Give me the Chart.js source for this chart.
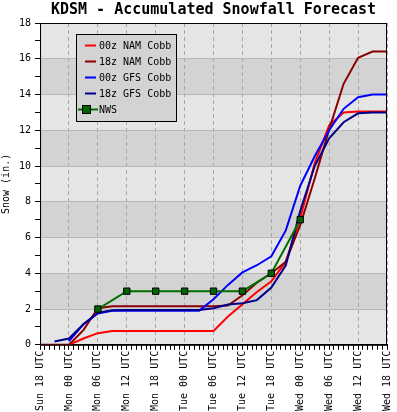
<!DOCTYPE html>
<html>
<head>
<meta charset="utf-8">
<script src="https://cdn.jsdelivr.net/npm/chart.js@4.4.0/dist/chart.umd.min.js"></script>
<style>
  html, body { margin: 0; padding: 0; background: #fff; }
</style>
</head>
<body>
<canvas id="snowChart" width="397" height="412"></canvas>
<script>
// forecast hours since Sun 18 UTC, every 3 hours
const hours = [0, 3, 6, 9, 12, 15, 18, 21, 24, 27, 30, 33, 36, 39, 42, 45, 48, 51, 54, 57, 60, 63, 66, 69, 72];
const tickLabels = ['Sun 18 UTC', 'Mon 00 UTC', 'Mon 06 UTC', 'Mon 12 UTC', 'Mon 18 UTC', 'Tue 00 UTC', 'Tue 06 UTC',
  'Tue 12 UTC', 'Tue 18 UTC', 'Wed 00 UTC', 'Wed 06 UTC', 'Wed 12 UTC', 'Wed 18 UTC'];

// accumulated snow (in.)
const nam00 = [null, null, 0, 0.35, 0.65, 0.77, 0.77, 0.77, 0.77, 0.77, 0.77, 0.77, 0.77, 1.58, 2.27, 2.95, 3.55, 4.65, 7.1, 10.15, 12.27, 13.0, 13.05, 13.05, 13.05];
const nam18 = [0, 0, 0, 0.82, 2.05, 2.15, 2.15, 2.15, 2.15, 2.15, 2.15, 2.15, 2.15, 2.2, 2.77, 3.47, 4.0, 4.65, 6.7, 9.3, 12.05, 14.6, 16.05, 16.4, 16.4];
const gfs00 = [null, null, 0.2, 1.15, 1.75, 1.9, 1.9, 1.9, 1.9, 1.9, 1.9, 1.9, 2.55, 3.35, 4.05, 4.45, 4.95, 6.4, 8.9, 10.55, 12.0, 13.2, 13.85, 14.0, 14.0];
const gfs18 = [null, 0.19, 0.35, 1.15, 1.8, 1.93, 1.95, 1.95, 1.95, 1.95, 1.95, 1.95, 2.05, 2.25, 2.32, 2.5, 3.2, 4.45, 7.5, 10.0, 11.55, 12.45, 12.95, 13.0, 13.0];

const nwsHours = [12, 18, 24, 30, 36, 42, 48, 54];
const nwsSnow = [2, 3, 3, 3, 3, 3, 4, 7];

const pts = (xs, ys) => xs.map((x, i) => ({ x: x, y: ys[i] }));

Chart.defaults.font.family = "'DejaVu Sans Mono', monospace";
Chart.defaults.font.size = 10;
Chart.defaults.color = '#000';

// alternating grey bands every 2 inches
const bands = {
  id: 'bands',
  beforeDraw(chart) {
    const { ctx, chartArea: a, scales: { y } } = chart;
    ctx.save();
    for (let v = 0; v < 18; v += 2) {
      const top = y.getPixelForValue(v + 2), bot = y.getPixelForValue(v);
      ctx.fillStyle = (v / 2) % 2 === 1 ? '#d3d3d3' : '#e5e5e5';
      ctx.fillRect(a.left, top, a.right - a.left, bot - top);
    }
    ctx.restore();
  }
};

// frame and boxed legend
const frameLegend = {
  id: 'frameLegend',
  afterDraw(chart) {
    const { ctx, chartArea: a } = chart;
    ctx.save();
    ctx.strokeStyle = '#000';
    ctx.lineWidth = 1;
    ctx.strokeRect(a.left + 0.5, a.top + 0.5, a.right - a.left - 1, a.bottom - a.top);

    const bx = 76, by = 34, bw = 100, bh = 87;
    ctx.fillStyle = '#d3d3d3';
    ctx.fillRect(bx, by, bw, bh);
    ctx.strokeRect(bx + 0.5, by + 0.5, bw, bh);
    ctx.font = "10px 'DejaVu Sans Mono'";
    ctx.textBaseline = 'middle';
    chart.data.datasets.forEach((ds, i) => {
      const cy = by + 11.5 + i * 16;
      ctx.strokeStyle = ds.borderColor;
      ctx.lineWidth = 2;
      ctx.beginPath();
      if (ds.pointRadius > 0) {
        ctx.moveTo(78, cy); ctx.lineTo(98, cy); ctx.stroke();
        ctx.fillStyle = ds.pointBackgroundColor;
        ctx.fillRect(82, cy - 4.5, 9, 9);
        ctx.strokeStyle = '#000'; ctx.lineWidth = 1;
        ctx.strokeRect(82.5, cy - 4, 8, 8);
      } else {
        ctx.moveTo(85, cy); ctx.lineTo(96, cy); ctx.stroke();
      }
      ctx.fillStyle = '#000';
      ctx.fillText(ds.label, 99, cy + 0.5);
    });
    ctx.restore();
  }
};

const line = (label, color, ys, order) => ({
  label: label, data: pts(hours, ys), borderColor: color, backgroundColor: color,
  borderWidth: 2, pointRadius: 0, tension: 0, order: order
});

new Chart(document.getElementById('snowChart'), {
  type: 'line',
  data: {
    datasets: [
      line('00z NAM Cobb', '#ff0000', nam00, 4),
      line('18z NAM Cobb', '#8b0000', nam18, 3),
      line('00z GFS Cobb', '#0000ff', gfs00, 2),
      line('18z GFS Cobb', '#00008b', gfs18, 1),
      {
        label: 'NWS', data: pts(nwsHours, nwsSnow), borderColor: '#007000', borderWidth: 2,
        pointRadius: 4.5, pointStyle: 'rect', pointBackgroundColor: '#006400',
        pointBorderColor: '#000', pointBorderWidth: 1, tension: 0, order: 0
      }
    ]
  },
  options: {
    responsive: false,
    animation: false,
    devicePixelRatio: 1,
    layout: { padding: { left: 0, right: 0, top: 0, bottom: 0 } },
    plugins: {
      legend: { display: false },
      tooltip: { enabled: false },
      title: {
        display: true, fullSize: false,
        text: 'KDSM - Accumulated Snowfall Forecast',
        font: { size: 15, weight: 'bold', lineHeight: 1 },
        color: '#000',
        padding: { top: 3, bottom: 5 }
      }
    },
    scales: {
      x: {
        type: 'linear', min: 0, max: 72,
        afterFit: s => { s.paddingRight = 10; },
        ticks: {
          stepSize: 1, autoSkip: false, maxTicksLimit: 100, minRotation: 90, maxRotation: 90, padding: 1,
          callback: v => (v % 6 === 0 ? tickLabels[v / 6] : '')
        },
        grid: {
          color: c => (c.tick && c.tick.value % 6 === 0) ? '#a8a8a8' : 'rgba(0,0,0,0)',
          tickColor: '#000', tickLength: 5, lineWidth: 1
        },
        border: { color: '#000', dash: [4, 3] }
      },
      y: {
        min: 0, max: 18,
        ticks: { stepSize: 1, autoSkip: false, padding: 4, callback: v => (v % 2 === 0 ? v : '') },
        grid: {
          color: c => (c.tick && c.tick.value % 2 === 0) ? '#b8b8b8' : 'rgba(0,0,0,0)',
          tickColor: '#000', tickLength: 5, lineWidth: 1
        },
        border: { color: '#000' },
        title: { display: true, text: 'Snow (in.)', padding: { top: 0, bottom: 3 } }
      }
    }
  },
  plugins: [bands, frameLegend]
});
</script>
</body>
</html>
